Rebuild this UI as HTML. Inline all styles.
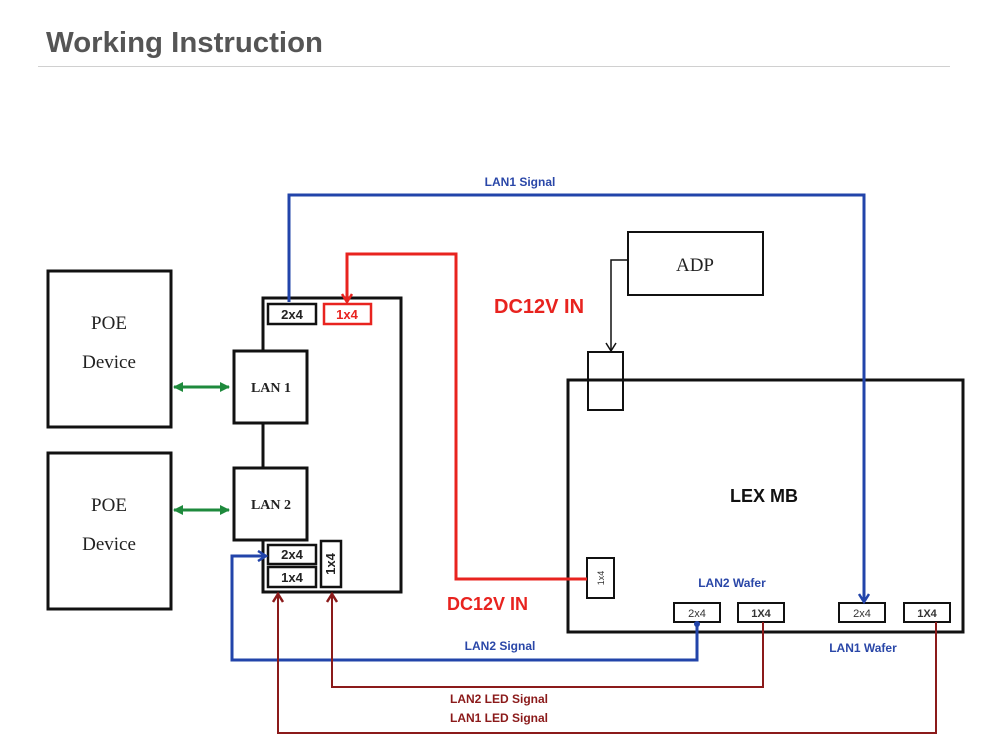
<!DOCTYPE html>
<html><head><meta charset="utf-8"><style>
html,body{margin:0;padding:0;background:#fff;}
svg{display:block;}
</style></head><body>
<svg width="1000" height="756" viewBox="0 0 1000 756" xmlns="http://www.w3.org/2000/svg">
<defs>
<marker id="ab" markerWidth="12" markerHeight="12" refX="9" refY="6" orient="auto" markerUnits="userSpaceOnUse"><path d="M1,1 L9,6 L1,11" fill="none" stroke="#2244aa" stroke-width="2.5"/></marker>
<marker id="ar" markerWidth="12" markerHeight="12" refX="9" refY="6" orient="auto" markerUnits="userSpaceOnUse"><path d="M1,1 L9,6 L1,11" fill="none" stroke="#e8231f" stroke-width="2.5"/></marker>
<marker id="ad" markerWidth="12" markerHeight="12" refX="9" refY="6" orient="auto" markerUnits="userSpaceOnUse"><path d="M1,1 L9,6 L1,11" fill="none" stroke="#8b1a1a" stroke-width="2.5"/></marker>
<marker id="ak" markerWidth="12" markerHeight="12" refX="9" refY="6" orient="auto" markerUnits="userSpaceOnUse"><path d="M1,1 L9,6 L1,11" fill="none" stroke="#111" stroke-width="1.5"/></marker>
<marker id="ag" markerWidth="10" markerHeight="10" refX="9" refY="5" orient="auto-start-reverse" markerUnits="userSpaceOnUse"><path d="M0,0 L10,5 L0,10 Z" fill="#1e8a3c"/></marker>
</defs>
<text x="46" y="52" font-family="Liberation Sans, sans-serif" font-weight="bold" font-size="29" fill="#555" textLength="277" lengthAdjust="spacingAndGlyphs">Working Instruction</text>
<line x1="38" y1="66.5" x2="950" y2="66.5" stroke="#d0d0d0" stroke-width="1"/>

<g fill="none" stroke="#111" stroke-width="3">
<rect x="48" y="271" width="123" height="156"/>
<rect x="48" y="453" width="123" height="156"/>
<rect x="263" y="298" width="138" height="294"/>
<rect x="568" y="380" width="395" height="252"/>
</g>
<g fill="#fff" stroke="#111" stroke-width="3">
<rect x="234" y="351" width="73" height="72"/>
<rect x="234" y="468" width="73" height="72"/>
<rect x="268" y="304" width="48" height="20" stroke-width="2.5"/>
<rect x="268" y="545" width="48" height="19" stroke-width="2.5"/>
<rect x="268" y="567" width="48" height="20" stroke-width="2.5"/>
<rect x="321" y="541" width="20" height="46" stroke-width="2.5"/>
</g>
<rect x="324" y="304" width="47" height="20" fill="#fff" stroke="#e8231f" stroke-width="2.5"/>
<rect x="628" y="232" width="135" height="63" fill="#fff" stroke="#111" stroke-width="2"/>
<rect x="588" y="352" width="35" height="58" fill="none" stroke="#111" stroke-width="2"/>
<g fill="#fff" stroke="#111" stroke-width="2">
<rect x="587" y="558" width="27" height="40"/>
<rect x="674" y="603" width="46" height="19"/>
<rect x="738" y="603" width="46" height="19"/>
<rect x="839" y="603" width="46" height="19"/>
<rect x="904" y="603" width="46" height="19"/>
</g>

<g font-family="Liberation Serif, serif" font-size="19" fill="#222" text-anchor="middle">
<text x="109" y="329">POE</text><text x="109" y="368">Device</text>
<text x="109" y="511">POE</text><text x="109" y="550">Device</text>
<text x="695" y="271">ADP</text>
</g>
<g font-family="Liberation Serif, serif" font-size="14" font-weight="bold" fill="#222" text-anchor="middle">
<text x="271" y="392">LAN 1</text><text x="271" y="509">LAN 2</text>
</g>
<g font-family="Liberation Sans, sans-serif" font-size="13" font-weight="bold" fill="#222" text-anchor="middle">
<text x="292" y="319">2x4</text><text x="292" y="559">2x4</text><text x="292" y="582">1x4</text>
<text x="347" y="319" fill="#e8231f">1x4</text>
<text transform="translate(335,564) rotate(-90)">1x4</text>
</g>
<g font-family="Liberation Sans, sans-serif" font-size="11" fill="#333" text-anchor="middle">
<text x="697" y="617">2x4</text><text x="761" y="617" font-weight="bold">1X4</text>
<text x="862" y="617">2x4</text><text x="927" y="617" font-weight="bold">1X4</text>
<text transform="translate(604,578) rotate(-90)" font-size="9">1x4</text>
</g>
<text x="764" y="502" font-family="Liberation Sans, sans-serif" font-size="18" font-weight="bold" fill="#111" text-anchor="middle">LEX MB</text>
<g font-family="Liberation Sans, sans-serif" font-weight="bold" fill="#e8231f">
<text x="494" y="313" font-size="20">DC12V IN</text>
<text x="447" y="610" font-size="18">DC12V IN</text>
</g>
<g font-family="Liberation Sans, sans-serif" font-weight="bold" font-size="12" fill="#2a47a8" text-anchor="middle">
<text x="520" y="186">LAN1 Signal</text>
<text x="500" y="650">LAN2 Signal</text>
<text x="732" y="587">LAN2 Wafer</text>
<text x="863" y="652">LAN1 Wafer</text>
</g>
<g font-family="Liberation Sans, sans-serif" font-weight="bold" font-size="12" fill="#8b1a1a" text-anchor="middle">
<text x="499" y="703">LAN2 LED Signal</text>
<text x="499" y="722">LAN1 LED Signal</text>
</g>

<g fill="none" stroke-width="3">
<path d="M289,302 V195 H864 V602" stroke="#2244aa" marker-end="url(#ab)"/>
<path d="M697,624 V660 H232 V556 H266" stroke="#2244aa" marker-end="url(#ab)"/>
<path d="M587,579 H456 V254 H347 V302" stroke="#e8231f" marker-end="url(#ar)"/>
<path d="M763,622 V687 H332 V594" stroke="#8b1a1a" stroke-width="2" marker-end="url(#ad)"/>
<path d="M936,622 V733 H278 V594" stroke="#8b1a1a" stroke-width="2" marker-end="url(#ad)"/>
<path d="M628,260 H611 V351" stroke="#111" stroke-width="1.5" marker-end="url(#ak)"/>
<line x1="174" y1="387" x2="229" y2="387" stroke="#1e8a3c" marker-start="url(#ag)" marker-end="url(#ag)"/>
<line x1="174" y1="510" x2="229" y2="510" stroke="#1e8a3c" marker-start="url(#ag)" marker-end="url(#ag)"/>
</g>
<circle cx="697" cy="624" r="3" fill="#2244aa"/>
</svg>
</body></html>
